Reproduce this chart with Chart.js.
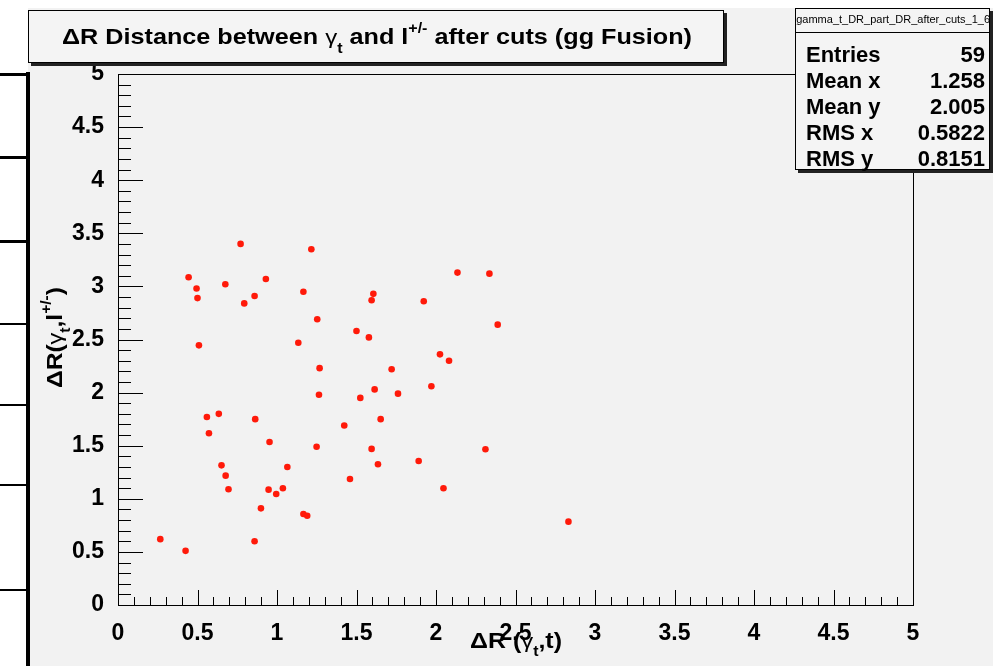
<!DOCTYPE html>
<html>
<head>
<meta charset="utf-8">
<script src="https://cdn.jsdelivr.net/npm/chart.js@4.4.1/dist/chart.umd.min.js"></script>
<style>
  html, body { margin: 0; padding: 0; background: #f2f2f2; }
  canvas { display: block; }
</style>
</head>
<body>
<canvas id="scatterChart" width="993" height="666"></canvas>
<script>
// dR(gamma_t, t) and dR(gamma_t, lepton)
var xValues = [0.266, 0.425, 0.444, 0.494, 0.50, 0.509, 0.559, 0.572, 0.634, 0.651,
               0.675, 0.677, 0.695, 0.771, 0.794, 0.859, 0.863, 0.859, 0.899, 0.93,
               0.947, 0.953, 0.995, 1.037, 1.065, 1.134, 1.166, 1.166, 1.19, 1.216,
               1.249, 1.253, 1.264, 1.268, 1.423, 1.459, 1.50, 1.524, 1.578, 1.595,
               1.606, 1.595, 1.614, 1.635, 1.652, 1.721, 1.761, 1.891, 1.923, 1.971,
               2.025, 2.047, 2.082, 2.135, 2.311, 2.336, 2.388, 2.833];
var yValues = [0.62, 0.51, 3.086, 2.98, 2.89, 2.445, 1.77, 1.617, 1.80, 1.315,
               3.02, 1.218, 1.09, 3.40, 2.84, 2.91, 1.75, 0.60, 0.91, 3.07,
               1.086, 1.535, 1.045, 1.10, 1.30, 2.47, 2.95, 0.857, 0.84, 3.35,
               1.49, 2.69, 1.98, 2.23, 1.69, 1.186, 2.58, 1.95, 2.52, 2.87,
               2.93, 1.47, 2.03, 1.325, 1.75, 2.22, 1.99, 1.356, 2.86, 2.06,
               2.36, 1.10, 2.30, 3.13, 1.466, 3.12, 2.64, 0.785];
var tickLabels = ['0', '0.5', '1', '1.5', '2', '2.5', '3', '3.5', '4', '4.5', '5'];
var statNames = ['Entries', 'Mean x', 'Mean y', 'RMS x', 'RMS y'];
var statValues = ['59', '1.258', '2.005', '0.5822', '0.8151'];
var histName = 'h_gamma_t_DR_part_DR_after_cuts_1_6';

var points = xValues.map(function (x, i) { return { x: x, y: yValues[i] }; });

var FONT = '"Liberation Sans", Arial, sans-serif';

// draws a row of text pieces (sub/superscripts) squeezed to a given width
function drawRich(ctx, segs, x, y, width) {
  var w = 0;
  segs.forEach(function (s) { ctx.font = s.f; w += ctx.measureText(s.t).width; });
  ctx.save();
  ctx.translate(x, y);
  ctx.scale(width / w, 1);
  ctx.textBaseline = 'alphabetic';
  ctx.textAlign = 'left';
  ctx.fillStyle = '#000';
  var cx = 0;
  segs.forEach(function (s) {
    ctx.font = s.f;
    ctx.fillText(s.t, cx, s.dy || 0);
    cx += ctx.measureText(s.t).width;
  });
  ctx.restore();
}

var big = 'bold 22px ' + FONT;
var small = 'bold 14px ' + FONT;
var greek = '21px ' + FONT;

var rootStyle = {
  id: 'rootStyle',
  beforeDraw: function (chart) {
    var ctx = chart.ctx;
    ctx.save();
    ctx.fillStyle = '#f2f2f2';
    ctx.fillRect(0, 0, 993, 666);
    ctx.fillStyle = '#ffffff';
    ctx.fillRect(0, 0, 993, 8);
    ctx.fillRect(0, 0, 27, 666);
    ctx.fillRect(0, 0, 28, 72);
    // bits of the neighbouring pad on the left
    ctx.fillStyle = '#000';
    ctx.fillRect(26, 72, 4, 594);
    [[73, 3], [156, 3], [240, 3], [323, 2], [404, 2], [484, 2], [589, 2]].forEach(function (l) {
      ctx.fillRect(0, l[0], 28, l[1]);
    });
    ctx.restore();
  },
  beforeDatasetsDraw: function (chart) {
    var ctx = chart.ctx, a = chart.chartArea;
    var xs = chart.scales.x, ys = chart.scales.y;
    ctx.save();
    ctx.strokeStyle = '#000';
    ctx.lineWidth = 1;
    ctx.strokeRect(a.left + 0.5, a.top + 0.5, a.right - a.left, a.bottom - a.top);
    ctx.beginPath();
    for (var i = 0; i <= 50; i++) {
      var v = i / 10;
      var px = Math.round(xs.getPixelForValue(v)) + 0.5;
      var lx = (i % 5 === 0) ? 15 : 8;
      ctx.moveTo(px, a.bottom);
      ctx.lineTo(px, a.bottom - lx);
      var py = Math.round(ys.getPixelForValue(v)) + 0.5;
      var ly = (i % 5 === 0) ? 25 : 13;
      ctx.moveTo(a.left, py);
      ctx.lineTo(a.left + ly, py);
    }
    ctx.stroke();
    ctx.restore();
  },
  afterDraw: function (chart) {
    var ctx = chart.ctx;
    ctx.save();

    // title box
    ctx.fillStyle = '#222';
    ctx.fillRect(31, 63, 696, 3);
    ctx.fillRect(724, 13, 3, 53);
    ctx.fillStyle = '#f4f4f4';
    ctx.fillRect(28, 10, 696, 53);
    ctx.strokeStyle = '#000';
    ctx.lineWidth = 1;
    ctx.strokeRect(28.5, 10.5, 695, 52);
    drawRich(ctx, [
      { t: '\u0394R Distance between ', f: big },
      { t: '\u03b3', f: greek },
      { t: 't', f: small, dy: 9 },
      { t: ' and l', f: big },
      { t: '+/-', f: small, dy: -11 },
      { t: ' after cuts (gg Fusion)', f: big }
    ], 62, 44, 630);

    // stats box
    ctx.fillStyle = '#222';
    ctx.fillRect(798, 170, 195, 3);
    ctx.fillRect(990, 11, 3, 162);
    ctx.fillStyle = '#f4f4f4';
    ctx.fillRect(795, 8, 195, 162);
    ctx.strokeStyle = '#000';
    ctx.strokeRect(795.5, 8.5, 194, 161);
    ctx.beginPath();
    ctx.moveTo(795, 32.5);
    ctx.lineTo(990, 32.5);
    ctx.stroke();
    ctx.save();
    ctx.beginPath();
    ctx.rect(796, 9, 193, 23);
    ctx.clip();
    ctx.fillStyle = '#000';
    ctx.font = '11px ' + FONT;
    ctx.textAlign = 'center';
    ctx.textBaseline = 'middle';
    ctx.fillText(histName, 887, 20);
    ctx.restore();
    ctx.fillStyle = '#000';
    ctx.font = big;
    ctx.textBaseline = 'alphabetic';
    statNames.forEach(function (n, i) {
      var by = 62 + i * 26;
      ctx.textAlign = 'left';
      ctx.fillText(n, 806, by);
      ctx.textAlign = 'right';
      ctx.fillText(statValues[i], 985, by);
    });

    // axis titles
    drawRich(ctx, [
      { t: '\u0394R (', f: big },
      { t: '\u03b3', f: greek },
      { t: 't', f: small, dy: 8 },
      { t: ',t)', f: big }
    ], 470, 648, 92);

    ctx.save();
    ctx.translate(62, 388);
    ctx.rotate(-Math.PI / 2);
    drawRich(ctx, [
      { t: '\u0394R(', f: big },
      { t: '\u03b3', f: greek },
      { t: 't', f: small, dy: 8 },
      { t: ',l', f: big },
      { t: '+/-', f: small, dy: -11 },
      { t: ')', f: big }
    ], 0, 0, 101);
    ctx.restore();

    ctx.restore();
  }
};

var ctx = document.getElementById('scatterChart').getContext('2d');
var myChart = new Chart(ctx, {
  type: 'scatter',
  data: {
    datasets: [{
      label: 'dR',
      data: points,
      backgroundColor: '#ff1a0a',
      borderWidth: 0,
      pointRadius: 3.3,
      pointHoverRadius: 3.3
    }]
  },
  options: {
    responsive: false,
    animation: false,
    devicePixelRatio: 1,
    layout: { padding: { left: 0, top: 74, right: 80, bottom: 0 } },
    plugins: {
      legend: { display: false },
      title: { display: false },
      tooltip: { enabled: false }
    },
    scales: {
      x: {
        type: 'linear',
        min: 0, max: 5,
        grid: { display: false },
        border: { display: false },
        ticks: {
          stepSize: 0.5,
          color: '#000',
          padding: 7,
          maxRotation: 0,
          autoSkip: false,
          font: { family: FONT, size: 23, weight: 'bold' },
          callback: function (v) { return tickLabels[Math.round(v * 2)]; }
        },
        afterFit: function (s) { s.height = 61; }
      },
      y: {
        type: 'linear',
        min: 0, max: 5,
        grid: { display: false },
        border: { display: false },
        ticks: {
          stepSize: 0.5,
          color: '#000',
          padding: 6,
          autoSkip: false,
          font: { family: FONT, size: 23, weight: 'bold' },
          callback: function (v) { return tickLabels[Math.round(v * 2)]; }
        },
        afterFit: function (s) { s.width = 118; }
      }
    }
  },
  plugins: [rootStyle]
});
</script>
</body>
</html>
